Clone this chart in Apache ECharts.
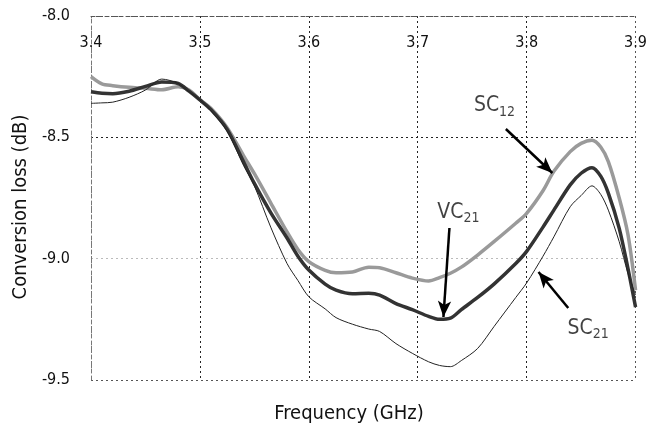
<!DOCTYPE html>
<html><head><meta charset="utf-8">
<script src="https://cdn.jsdelivr.net/npm/echarts@6/dist/echarts.min.js"></script>
<style>html,body{margin:0;padding:0;background:#fff}#c{width:650px;height:430px}</style>
</head><body><div id="c"></div>
<script>
// Frequency (GHz)
const freq = [3.400,3.410,3.420,3.435,3.450,3.465,3.480,3.490,3.500,3.510,3.525,3.540,3.550,3.565,3.580,3.590,3.600,3.615,3.625,3.640,3.655,3.665,3.680,3.695,3.710,3.720,3.730,3.740,3.755,3.770,3.790,3.800,3.815,3.825,3.840,3.850,3.860,3.868,3.875,3.885,3.893,3.900];
// Conversion loss (dB)
const sc12 = [-8.25,-8.28,-8.287,-8.294,-8.298,-8.304,-8.292,-8.305,-8.345,-8.38,-8.46,-8.575,-8.65,-8.77,-8.89,-8.962,-9.012,-9.048,-9.058,-9.055,-9.035,-9.037,-9.058,-9.08,-9.092,-9.078,-9.06,-9.035,-8.985,-8.93,-8.854,-8.813,-8.72,-8.64,-8.559,-8.525,-8.512,-8.54,-8.60,-8.75,-8.90,-9.13];
const vc21 = [-8.312,-8.318,-8.320,-8.310,-8.290,-8.272,-8.278,-8.310,-8.346,-8.385,-8.467,-8.60,-8.69,-8.81,-8.915,-8.99,-9.047,-9.105,-9.13,-9.145,-9.143,-9.15,-9.185,-9.21,-9.238,-9.25,-9.245,-9.21,-9.16,-9.105,-9.02,-8.97,-8.87,-8.80,-8.696,-8.648,-8.625,-8.66,-8.73,-8.875,-9.04,-9.2];
const sc21 = [-8.36,-8.358,-8.355,-8.335,-8.305,-8.26,-8.278,-8.312,-8.346,-8.39,-8.475,-8.615,-8.70,-8.87,-9.02,-9.09,-9.157,-9.207,-9.243,-9.27,-9.29,-9.30,-9.35,-9.39,-9.425,-9.44,-9.445,-9.42,-9.37,-9.28,-9.16,-9.10,-8.99,-8.91,-8.786,-8.74,-8.70,-8.735,-8.80,-8.93,-9.06,-9.15];

// Annotations (labels with subscripts, arrows)
const annMain = ['SC','VC','SC'];
const annSub  = ['12','21','21'];
const annX = [3.7705, 3.7373, 3.8564];
const annY = [-8.371, -8.808, -9.288];
const arrowFrom = [[3.7809,-8.4657],[3.7291,-8.8736],[3.8382,-9.2033]];
const arrowTo   = [[3.8236,-8.647],[3.7236,-9.2404],[3.8109,-9.0549]];

const xTitle = 'Frequency (GHz)';
const yTitle = 'Conversion loss (dB)';

const FONT = '"Liberation Sans Narrow","DejaVu Sans Condensed","Arial Narrow",sans-serif';
const chart = echarts.init(document.getElementById('c'), null, {renderer:'canvas'});
const pairs = v => freq.map((f,i)=>[f,v[i]]);

chart.setOption({
  animation:false,
  grid:{left:91,right:9,top:16,bottom:50,containLabel:false},
  xAxis:{type:'value',position:'top',min:3.4,max:3.9,interval:0.1,
    axisLine:{show:true,lineStyle:{color:'#555',type:[4,3],width:1}},
    axisTick:{show:false},
    axisLabel:{inside:true,margin:19,fontFamily:FONT,fontSize:16,color:'#111',
      formatter:v=>v.toFixed(1),showMinLabel:true,showMaxLabel:true},
    splitLine:{show:true,lineStyle:{color:['#777','#222','#222','#222','#222','#555'],type:[2,3],width:1}}},
  yAxis:{type:'value',min:-9.5,max:-8.0,interval:0.5,
    axisLine:{show:true,lineStyle:{color:'#777',type:[4,3],width:1}},
    axisTick:{show:false},
    axisLabel:{margin:21,fontFamily:FONT,fontSize:16,color:'#111',formatter:v=>v.toFixed(1)},
    splitLine:{show:true,lineStyle:{color:['#555','#bbb','#222','#555'],type:[2,3],width:1}}},
  graphic:[
    {type:'text',style:{text:xTitle,font:'20px '+FONT,fill:'#111',textAlign:'center',textVerticalAlign:'middle'},position:[349,414]},
    {type:'text',style:{text:yTitle,font:'20px '+FONT,fill:'#111',textAlign:'center',textVerticalAlign:'middle'},position:[21,207],rotation:Math.PI/2}
  ],
  series:[
    {name:'SC12',type:'line',data:pairs(sc12),showSymbol:false,symbol:'none',smooth:0.3,
      lineStyle:{color:'#9a9a9a',width:3.5},z:2},
    {name:'VC21',type:'line',data:pairs(vc21),showSymbol:false,symbol:'none',smooth:0.3,
      lineStyle:{color:'#333',width:3.5},z:3},
    {name:'SC21',type:'line',data:pairs(sc21),showSymbol:false,symbol:'none',smooth:0.3,
      lineStyle:{color:'#222',width:1},z:4},
    {name:'arrows',type:'line',data:[],z:6,
      markLine:{silent:true,symbol:['none','arrow'],symbolSize:[10,16],animation:false,
        label:{show:false},lineStyle:{color:'#000',width:2.5,type:'solid'},
        emphasis:{disabled:true},
        data:arrowFrom.map((f,i)=>[{coord:f},{coord:arrowTo[i]}])}},
    {name:'labels',type:'scatter',symbolSize:0,z:7,silent:true,
      data:annX.map((x,i)=>({value:[x,annY[i]],name:annMain[i]+annSub[i]})),
      label:{show:true,position:'inside',
        formatter:p=>`{m|${annMain[p.dataIndex]}}{s|${annSub[p.dataIndex]}}`,
        rich:{m:{fontFamily:FONT,fontSize:21,lineHeight:26,color:'#111'},
              s:{fontFamily:FONT,fontSize:14,lineHeight:8,verticalAlign:'bottom',color:'#111'}}}}
  ]
});
</script></body></html>
